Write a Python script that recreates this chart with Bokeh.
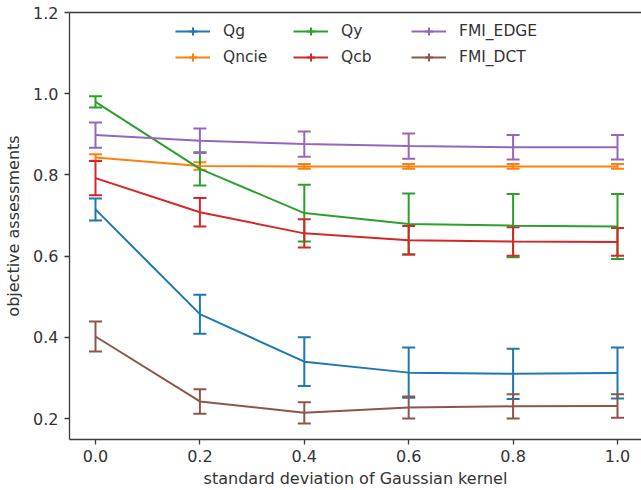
import numpy as np
from bokeh.plotting import figure
from bokeh.models import (ColumnDataSource, Whisker, TeeHead, Legend, LegendItem,
                          LinearAxis, Range1d, FixedTicker, PrintfTickFormatter)
from bokeh.embed import file_html
from bokeh.resources import INLINE

sigma = [0.0, 0.2, 0.4, 0.6, 0.8, 1.0]

qg_mean = [0.715, 0.457, 0.340, 0.313, 0.310, 0.312]
qg_err = [0.027, 0.048, 0.060, 0.062, 0.062, 0.063]

qncie_mean = [0.843, 0.822, 0.821, 0.821, 0.821, 0.821]
qncie_err = [0.008, 0.009, 0.006, 0.006, 0.006, 0.006]

qy_mean = [0.980, 0.815, 0.706, 0.679, 0.675, 0.673]
qy_err = [0.014, 0.041, 0.070, 0.075, 0.078, 0.080]

qcb_mean = [0.792, 0.708, 0.656, 0.639, 0.636, 0.635]
qcb_err = [0.042, 0.035, 0.035, 0.035, 0.035, 0.034]

fmi_edge_mean = [0.898, 0.884, 0.876, 0.871, 0.868, 0.868]
fmi_edge_err = [0.031, 0.030, 0.031, 0.031, 0.030, 0.030]

fmi_dct_mean = [0.402, 0.242, 0.214, 0.227, 0.230, 0.231]
fmi_dct_err = [0.037, 0.030, 0.026, 0.027, 0.030, 0.029]

y_ticks = [0.2, 0.4, 0.6, 0.8, 1.0, 1.2]

series = [
    ("Qg", qg_mean, qg_err, "#1f77b4"),
    ("Qncie", qncie_mean, qncie_err, "#ff7f0e"),
    ("Qy", qy_mean, qy_err, "#2ca02c"),
    ("Qcb", qcb_mean, qcb_err, "#d62728"),
    ("FMI_EDGE", fmi_edge_mean, fmi_edge_err, "#9467bd"),
    ("FMI_DCT", fmi_dct_mean, fmi_dct_err, "#8c564b"),
]

FONT = "DejaVu Sans"
AX = "#3a3a3a"
TXT = "#333333"

p = figure(width=641, height=490, output_backend="svg", toolbar_location=None,
           x_range=Range1d(-0.0498, 1.046), y_range=Range1d(0.1483, 1.2),
           min_border_left=69, min_border_right=0, min_border_top=12, min_border_bottom=51,
           x_axis_location=None, y_axis_location=None)
p.outline_line_color = None
p.grid.visible = False
p.background_fill_color = "white"
p.border_fill_color = "white"

def style_axis(ax, ticks, label):
    ax.ticker = FixedTicker(ticks=ticks)
    ax.formatter = PrintfTickFormatter(format="%.1f")
    ax.axis_label = label
    ax.axis_line_color = AX
    ax.axis_line_width = 1.3
    ax.major_tick_line_color = AX
    ax.major_tick_line_width = 1.3
    ax.major_tick_out = 5
    ax.major_tick_in = 0
    ax.minor_tick_line_color = None
    ax.major_label_text_font = FONT
    ax.major_label_text_font_size = "16px"
    ax.major_label_text_color = TXT
    ax.axis_label_text_font = FONT
    ax.axis_label_text_font_size = "16px"
    ax.axis_label_text_font_style = "normal"
    ax.axis_label_text_color = TXT

xaxis = LinearAxis()
style_axis(xaxis, sigma, "standard deviation of Gaussian kernel")
xaxis.major_label_standoff = 5
xaxis.axis_label_standoff = 4
p.add_layout(xaxis, "below")

yaxis = LinearAxis()
style_axis(yaxis, y_ticks, "objective assessments")
yaxis.major_label_standoff = 6
yaxis.axis_label_standoff = 7
p.add_layout(yaxis, "left")

top_axis = LinearAxis(ticker=FixedTicker(ticks=[]), major_tick_out=0, major_tick_in=0,
                      major_label_standoff=0, minor_tick_out=0, minor_tick_in=0,
                      axis_line_color=AX, axis_line_width=1.3,
                      major_label_text_font_size="0px")
p.add_layout(top_axis, "above")

items = []
for name, mean, err, color in series:
    src = ColumnDataSource(dict(
        x=sigma, y=mean,
        upper=[m + e for m, e in zip(mean, err)],
        lower=[m - e for m, e in zip(mean, err)],
    ))
    ln = p.line("x", "y", source=src, line_color=color, line_width=2)
    wh = Whisker(source=src, base="x", upper="upper", lower="lower", dimension="height",
                 line_color=color, line_width=2,
                 upper_head=TeeHead(size=13, line_color=color, line_width=2),
                 lower_head=TeeHead(size=13, line_color=color, line_width=2))
    p.add_layout(wh)
    bar = p.scatter("x", "y", source=src, marker="cross", size=14,
                    line_color=color, line_width=2)
    bar.visible = False
    items.append(LegendItem(label=name, renderers=[ln, bar]))

legend = Legend(items=items, location=(106, 372), orientation="vertical", nrows=2,
                glyph_width=35, glyph_height=20, label_standoff=13, spacing=6,
                label_height=20, label_width=64, padding=0, margin=0,
                label_text_font=FONT, label_text_font_size="15.5px",
                label_text_color=TXT,
                inactive_fill_alpha=0,
                border_line_color=None, background_fill_alpha=0)
p.add_layout(legend)

open("out.html", "w").write(file_html(p, INLINE))
